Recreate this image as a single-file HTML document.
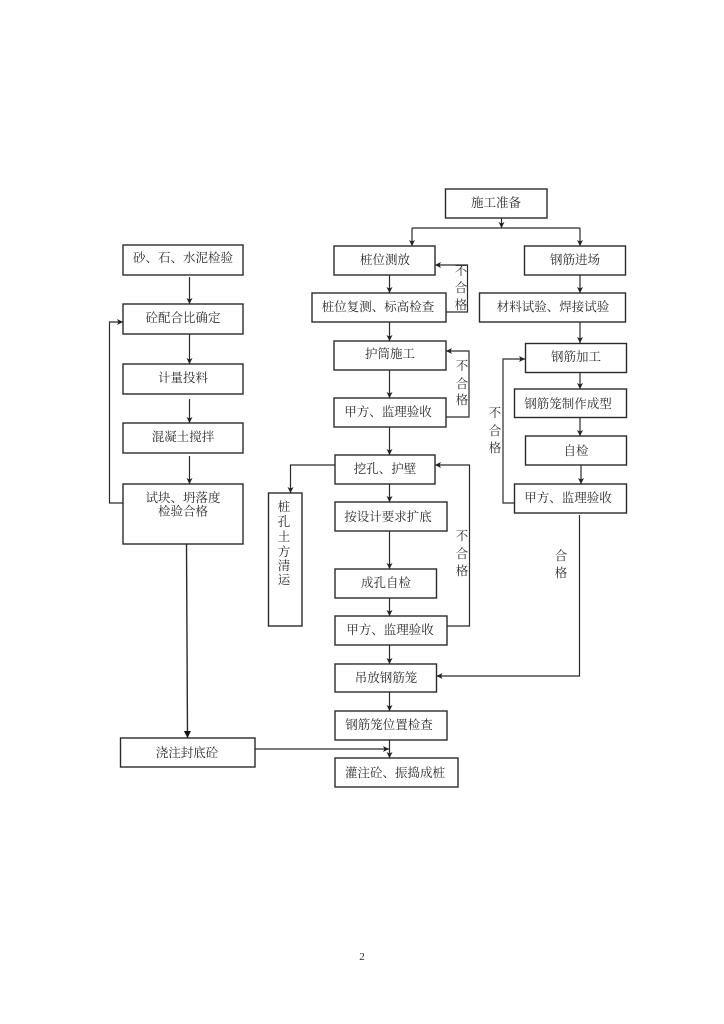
<!DOCTYPE html>
<html lang="zh">
<head>
<meta charset="utf-8">
<title>施工流程图</title>
<style>
html,body{margin:0;padding:0;background:#fff;width:724px;height:1024px;overflow:hidden}
svg{display:block}
text{font-family:"Liberation Serif","Noto Serif CJK SC",serif;font-size:12.5px;fill:#2a2a2a;text-anchor:middle;dominant-baseline:central}
rect{fill:#fff;stroke:#2a2a2a;stroke-width:1.4}
.l{fill:none;stroke:#2a2a2a;stroke-width:1.2}
</style>
</head>
<body>
<svg width="724" height="1024" viewBox="0 0 724 1024" xmlns="http://www.w3.org/2000/svg">
<defs>
<marker id="m" markerWidth="7" markerHeight="7" refX="6" refY="3" orient="auto" markerUnits="userSpaceOnUse">
<path d="M0,0 L6,3 L0,6 L1.5,3 Z" fill="#222"/>
</marker>
<marker id="big" markerWidth="10" markerHeight="10" refX="7" refY="3.5" orient="auto" markerUnits="userSpaceOnUse">
<path d="M0,0 L7,3.5 L0,7 Z" fill="#111"/>
</marker>
</defs>

<!-- left column boxes -->
<rect x="123" y="245" width="120" height="30"/>
<rect x="123" y="304" width="120" height="30"/>
<rect x="123" y="364" width="120" height="30"/>
<rect x="123" y="423" width="120" height="30"/>
<rect x="123" y="484" width="120" height="60"/>
<rect x="120.5" y="738" width="134.5" height="29"/>

<!-- centre boxes -->
<rect x="445.5" y="189" width="101.5" height="29"/>
<rect x="334" y="246" width="101" height="29"/>
<rect x="312" y="293" width="134" height="29"/>
<rect x="334" y="341" width="112" height="29"/>
<rect x="334" y="398" width="112" height="29"/>
<rect x="335" y="455" width="100" height="29"/>
<rect x="335" y="502" width="112" height="29"/>
<rect x="335" y="569" width="101.5" height="29"/>
<rect x="335" y="616" width="112" height="29"/>
<rect x="335" y="664" width="101.5" height="28"/>
<rect x="335" y="711" width="112" height="29"/>
<rect x="335" y="758" width="123" height="29"/>
<rect x="268.5" y="493" width="33.5" height="133"/>

<!-- right boxes -->
<rect x="524.5" y="246" width="101" height="29"/>
<rect x="479.5" y="293" width="146" height="29"/>
<rect x="525.5" y="343.5" width="101" height="29"/>
<rect x="514.5" y="389" width="112" height="28.5"/>
<rect x="525.5" y="436" width="101" height="29"/>
<rect x="514.5" y="484" width="112" height="29"/>

<!-- left connectors -->
<g class="l" marker-end="url(#m)">
<path d="M189.5,277 V304"/>
<path d="M189.5,334 V364"/>
<path d="M189.5,399 V423"/>
<path d="M189.5,456 V484"/>
<path d="M123,503 H109.5 V322 H123"/>
<path d="M255,749 H389"/>
</g>
<path d="M186.5,544 L187.5,738" class="l" style="stroke-width:1.4" marker-end="url(#big)"/>

<!-- centre connectors -->
<g class="l" marker-end="url(#m)">
<path d="M501.5,218 V228"/>
<path d="M412,228 V246"/>
<path d="M580,228 V246"/>
<path d="M389.5,275 V293"/>
<path d="M389.5,322 V341"/>
<path d="M389.5,370 V398"/>
<path d="M389.5,427 V455"/>
<path d="M389.5,484 V502"/>
<path d="M389.5,531 V569"/>
<path d="M389.5,598 V616"/>
<path d="M389.5,645 V664"/>
<path d="M389.5,692 V711"/>
<path d="M389.5,740 V758"/>
<path d="M335,465 H290.5 V493"/>
<path d="M446,312 H467.5 V265 H435"/>
<path d="M446,417 H469 V351 H446"/>
<path d="M447,626 H469.5 V465 H435"/>
<!-- right -->
<path d="M580,275 V293"/>
<path d="M580,322 V343"/>
<path d="M580,372.5 V389"/>
<path d="M580,417.5 V436"/>
<path d="M581,465 V484"/>
<path d="M514.5,503 H503 V359 H525"/>
<path d="M579.5,515 V676 H436.5"/>
</g>
<path d="M412,228 H580" class="l"/>

<g transform="translate(0,1)">
<!-- left labels -->
<text x="183" y="257">砂、石、水泥检验</text>
<text x="183" y="317">砼配合比确定</text>
<text x="183" y="377">计量投料</text>
<text x="183" y="436">混凝土搅拌</text>
<text x="183" y="497">试块、坍落度</text>
<text x="183" y="510.5">检验合格</text>
<text x="187" y="752">浇注封底砼</text>

<!-- centre labels -->
<text x="496" y="202">施工准备</text>
<text x="385" y="259">桩位测放</text>
<text x="378" y="306">桩位复测、标高检查</text>
<text x="390" y="353">护筒施工</text>
<text x="388" y="411">甲方、监理验收</text>
<text x="385" y="468">挖孔、护壁</text>
<text x="388" y="516">按设计要求扩底</text>
<text x="386" y="582">成孔自检</text>
<text x="390" y="629">甲方、监理验收</text>
<text x="386" y="677">吊放钢筋笼</text>
<text x="389" y="724">钢筋笼位置检查</text>
<text x="395" y="772">灌注砼、振捣成桩</text>

<text x="284" y="506">桩</text>
<text x="284" y="521">孔</text>
<text x="284" y="536">土</text>
<text x="284" y="551">方</text>
<text x="284" y="565">清</text>
<text x="284" y="579">运</text>

<!-- right labels -->
<text x="575" y="259">钢筋进场</text>
<text x="553" y="306">材料试验、焊接试验</text>
<text x="576" y="356">钢筋加工</text>
<text x="568" y="403">钢筋笼制作成型</text>
<text x="576" y="450">自检</text>
<text x="568" y="497">甲方、监理验收</text>

<!-- connector labels -->
<text x="461" y="270">不</text><text x="461" y="287">合</text><text x="461" y="304">格</text>
<text x="462" y="365">不</text><text x="462" y="383">合</text><text x="462" y="399">格</text>
<text x="495" y="412">不</text><text x="495" y="430">合</text><text x="495" y="447">格</text>
<text x="462" y="535">不</text><text x="462" y="553">合</text><text x="462" y="570">格</text>
<text x="561" y="555">合</text><text x="561" y="572">格</text>

<text x="362" y="956" style="font-size:11px">2</text>
</g>
</svg>
</body>
</html>
